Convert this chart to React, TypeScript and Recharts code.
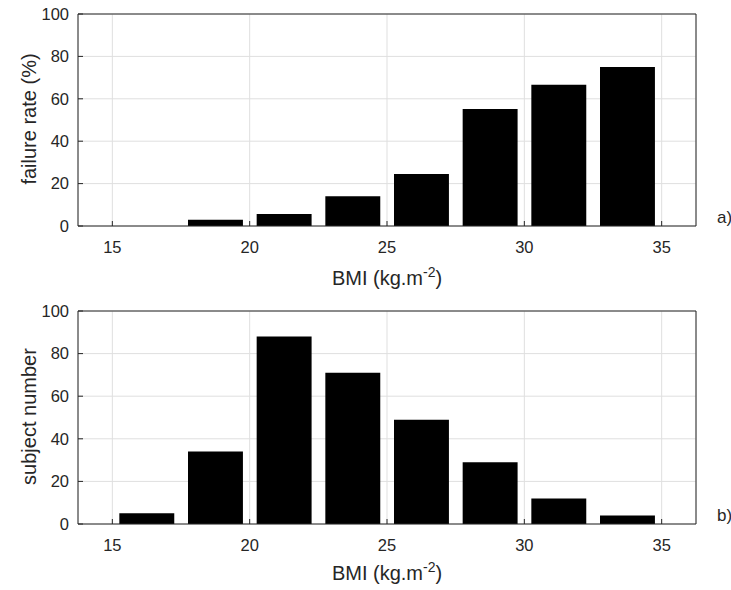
import React from "react";
import { BarChart, Bar, XAxis, YAxis, CartesianGrid } from "recharts";

// BMI bins (2.5 kg/m² wide), shown at their centres
const bmiCenters = [16.25, 18.75, 21.25, 23.75, 26.25, 28.75, 31.25, 33.75];
const failureRate = [0, 2.94, 5.68, 14.08, 24.49, 55.17, 66.67, 75];
const subjectCount = [5, 34, 88, 71, 49, 29, 12, 4];
const bmiTicks = [15, 20, 25, 30, 35];
const valueTicks = [0, 20, 40, 60, 80, 100];

const X_MIN = 13.75;
const X_MAX = 36.25;
const BIN_WIDTH = 2.5;
const CHART_W = 731;
const PLOT_LEFT = 78;
const PLOT_RIGHT = 696;
const BAR_PX = ((PLOT_RIGHT - PLOT_LEFT) / (X_MAX - X_MIN)) * BIN_WIDTH * 0.8;

const FONT = '"Liberation Sans", Arial, Helvetica, sans-serif';
const INK = "#262626";
const GRID = "#dfdfdf";

type Row = { bmi: number; value: number };

const failureRows: Row[] = bmiCenters.map((bmi, i) => ({ bmi, value: failureRate[i] }));
const subjectRows: Row[] = bmiCenters.map((bmi, i) => ({ bmi, value: subjectCount[i] }));

type PanelProps = {
  rows: Row[];
  yLabel: string;
  tag: string;
  top: number;
  height: number;
  marginTop: number;
  axisHeight: number;
  labelGap: number;
};

function Panel({ rows, yLabel, tag, top, height, marginTop, axisHeight, labelGap }: PanelProps) {
  const tickStyle = { fontSize: 16.5, fill: INK, fontFamily: FONT };
  const plotMid = marginTop + (height - marginTop - axisHeight) / 2 - 1;

  const renderXLabel = (props: any) => {
    const vb = props.viewBox || {};
    const cx = vb.x + vb.width / 2;
    return (
      <text x={cx} y={vb.y + labelGap} textAnchor="middle" fontSize={20} fill={INK} fontFamily={FONT}>
        BMI (kg.m
        <tspan dy={-8} fontSize={14}>
          -2
        </tspan>
        <tspan dy={8}>)</tspan>
      </text>
    );
  };

  const renderYLabel = () => {
    const lx = 36;
    return (
      <text
        x={lx}
        y={plotMid}
        textAnchor="middle"
        fontSize={20}
        fill={INK}
        fontFamily={FONT}
        transform={`rotate(-90 ${lx} ${plotMid})`}
      >
        {yLabel}
      </text>
    );
  };

  const renderTag = (props: any) => {
    const vb = props.viewBox || {};
    return (
      <text x={vb.x + 21} y={vb.y + vb.height - 3} fontSize={17} fill={INK} fontFamily={FONT}>
        {tag}
      </text>
    );
  };

  return (
    <div style={{ position: "absolute", left: 0, top, width: CHART_W, height }}>
      <BarChart
        width={CHART_W}
        height={height}
        data={rows}
        margin={{ top: marginTop - 1, right: CHART_W - PLOT_RIGHT - 1, bottom: 0, left: 0 }}
      >
        <CartesianGrid stroke={GRID} strokeWidth={1} />
        <XAxis
          dataKey="bmi"
          type="number"
          domain={[X_MIN, X_MAX]}
          ticks={bmiTicks}
          interval={0}
          allowDataOverflow
          height={axisHeight}
          tickSize={-5}
          tickMargin={20}
          tick={tickStyle}
          stroke={INK}
          label={{ content: renderXLabel }}
        />
        <XAxis
          xAxisId="top"
          orientation="top"
          dataKey="bmi"
          type="number"
          domain={[X_MIN, X_MAX]}
          ticks={bmiTicks}
          interval={0}
          allowDataOverflow
          height={1}
          tickSize={-5}
          tick={false}
          stroke={INK}
        />
        <YAxis
          type="number"
          domain={[0, 100]}
          ticks={valueTicks}
          interval={0}
          width={PLOT_LEFT}
          tickSize={-5}
          tickMargin={14}
          tick={tickStyle}
          stroke={INK}
          label={{ content: renderYLabel }}
        />
        <YAxis
          yAxisId="right"
          orientation="right"
          type="number"
          domain={[0, 100]}
          ticks={valueTicks}
          interval={0}
          width={1}
          tickSize={-5}
          tick={false}
          stroke={INK}
          label={{ content: renderTag }}
        />
        <Bar dataKey="value" fill="#000" barSize={BAR_PX} isAnimationActive={false} />
      </BarChart>
    </div>
  );
}

export default function App() {
  return (
    <div
      style={{
        position: "absolute",
        left: 0,
        top: 0,
        width: CHART_W,
        height: 590,
        background: "#fff",
        overflow: "hidden",
      }}
    >
      <Panel
        rows={failureRows}
        yLabel="failure rate (%)"
        tag="a)"
        top={0}
        height={295}
        marginTop={14}
        axisHeight={69}
        labelGap={59}
      />
      <Panel
        rows={subjectRows}
        yLabel="subject number"
        tag="b)"
        top={295}
        height={295}
        marginTop={16}
        axisHeight={66}
        labelGap={56}
      />
    </div>
  );
}
